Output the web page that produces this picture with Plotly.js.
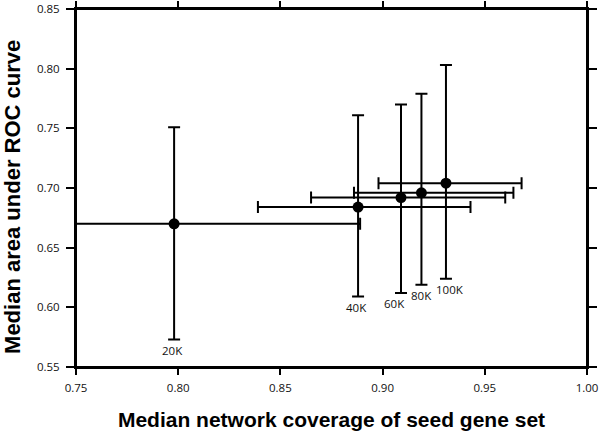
<!DOCTYPE html>
<html>
<head>
<meta charset="utf-8">
<script src="https://cdn.plot.ly/plotly-3.0.1.min.js"></script>
<style>html,body{margin:0;padding:0;background:#fff;}#chart{width:600px;height:433px;}#err{position:absolute;left:100px;top:20px;color:red;font:11px sans-serif;}</style>
</head>
<body>
<div id="chart"></div>
<div id="err"></div>
<script>
window.onerror = function(m){ document.getElementById('err').textContent += ' ERR: ' + m; };
// Data
var labels = ['20K', '40K', '60K', '80K', '100K'];
var coverage = [0.798, 0.888, 0.909, 0.919, 0.931];      // median network coverage (x)
var coverageLow = [0.707, 0.839, 0.865, 0.886, 0.898];   // x error bar, left end
var coverageHigh = [0.889, 0.943, 0.960, 0.964, 0.968];  // x error bar, right end
var auc = [0.670, 0.684, 0.692, 0.696, 0.704];           // median AUC (y)
var aucLow = [0.573, 0.609, 0.612, 0.619, 0.624];        // y error bar, bottom
var aucHigh = [0.751, 0.761, 0.770, 0.779, 0.803];       // y error bar, top
var xTicks = [0.75, 0.80, 0.85, 0.90, 0.95, 1.00];
var yTicks = [0.55, 0.60, 0.65, 0.70, 0.75, 0.80, 0.85];
var xTitle = 'Median network coverage of seed gene set';
var yTitle = 'Median area under ROC curve';

var labelShift = [-2, -2, -7, 0, 4];

function tickFont(){ return {family: 'Open Sans, Arial, sans-serif', size: 11.5, color: '#111'}; }
function titleFont(sz){ return {family: 'Liberation Sans, Arial, sans-serif', size: sz, color: '#000', weight: 'bold'}; }

var trace = {
  type: 'scatter',
  mode: 'markers',
  x: coverage,
  y: auc,
  marker: {color: '#000', size: 11},
  error_x: {
    type: 'data', symmetric: false,
    array: coverage.map(function(v, i){ return coverageHigh[i] - v; }),
    arrayminus: coverage.map(function(v, i){ return v - coverageLow[i]; }),
    color: '#000', thickness: 2, width: 6
  },
  error_y: {
    type: 'data', symmetric: false,
    array: auc.map(function(v, i){ return aucHigh[i] - v; }),
    arrayminus: auc.map(function(v, i){ return v - aucLow[i]; }),
    color: '#000', thickness: 2, width: 6
  },
  showlegend: false
};

var annotations = labels.map(function(t, i){
  return {
    x: coverage[i], y: aucLow[i], xref: 'x', yref: 'y',
    text: t, showarrow: false,
    xanchor: 'center', yanchor: 'top',
    xshift: labelShift[i], yshift: -1,
    font: tickFont()
  };
});
// y-axis title placed as a rotated annotation
annotations.push({
  xref: 'paper', yref: 'paper', x: 0, y: 0.475,
  xanchor: 'center', yanchor: 'middle', xshift: -63,
  textangle: -90, text: yTitle, showarrow: false,
  font: titleFont(22)
});

function axisBase(){
  return {
    showline: true, mirror: 'all', linecolor: '#000', linewidth: 2,
    ticks: 'outside', tickcolor: '#000', tickwidth: 2,
    showgrid: false, zeroline: false,
    tickformat: '.2f',
    ticklabeloverflow: 'allow',
    tickfont: tickFont()
  };
}

var layout = {
  width: 600, height: 433,
  margin: {l: 76, r: 13, t: 9, b: 66},
  paper_bgcolor: '#fff', plot_bgcolor: '#fff',
  xaxis: Object.assign(axisBase(), {
    range: [0.75, 1.0], tickvals: xTicks, ticklen: 6,
    ticklabelstandoff: 3,
    title: {text: xTitle, standoff: 19, font: titleFont(21)}
  }),
  yaxis: Object.assign(axisBase(), {
    range: [0.55, 0.85], tickvals: yTicks, ticklen: 8,
    ticklabelstandoff: 4
  }),
  shapes: [{
    type: 'rect', xref: 'x domain', yref: 'y domain', x0: 0, x1: 1, y0: 0, y1: 1,
    line: {color: '#000', width: 2}, layer: 'above'
  }],
  annotations: annotations
};

Plotly.newPlot('chart', [trace], layout, {displayModeBar: false, staticPlot: true})
  .catch(function(e){ document.getElementById('err').textContent += ' PROMISE: ' + e; });
</script>
</body>
</html>
